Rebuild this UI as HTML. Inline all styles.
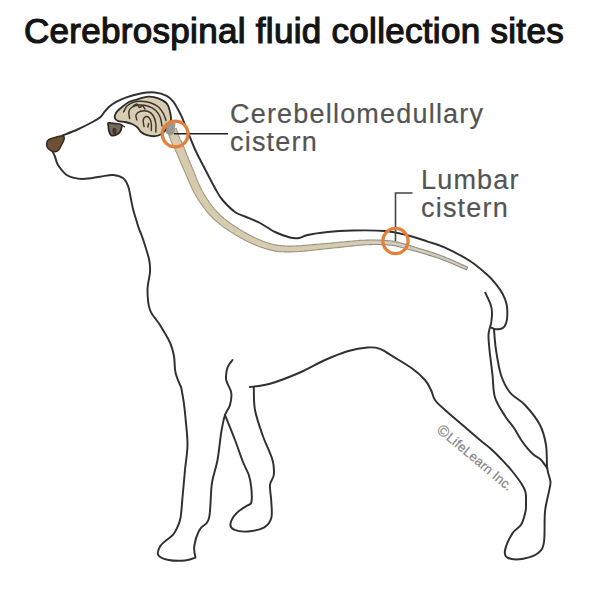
<!DOCTYPE html>
<html><head><meta charset="utf-8"><style>
html,body{margin:0;padding:0;background:#fff;width:600px;height:600px;overflow:hidden}
.t{position:absolute;font-family:"Liberation Sans",sans-serif;white-space:nowrap}
#title{left:24px;top:10.5px;font-size:35px;font-weight:normal;color:#141414;-webkit-text-stroke:1.2px #141414;letter-spacing:0.3px}
.lab{font-size:27px;color:#545454;-webkit-text-stroke:0.2px #545454;line-height:28px;letter-spacing:1.2px}
svg{position:absolute;left:0;top:0}
</style></head><body>
<svg width="600" height="600" viewBox="0 0 600 600">
<path d="M62.5 135.5 C65.0 134.5 72.5 131.8 77.5 129.5 C82.5 127.2 88.7 124.1 92.5 122.0 C96.3 119.9 98.4 118.8 100.5 117.0 C102.6 115.2 103.4 113.0 105.0 111.2 C106.6 109.4 108.3 107.4 110.0 106.0 C111.7 104.6 112.5 104.0 115.0 102.6 C117.5 101.2 120.5 99.3 125.0 97.8 C129.4 96.2 136.7 94.2 141.7 93.3 C146.7 92.4 150.8 92.1 155.0 92.5 C159.2 92.9 163.6 94.3 166.7 95.8 C169.8 97.3 171.4 99.3 173.3 101.7 C175.2 104.1 176.9 107.5 178.3 110.0 C179.7 112.5 180.6 114.2 181.7 116.7 C182.8 119.2 183.8 122.1 185.0 125.0 C186.2 127.9 187.0 129.8 188.7 134.0 C190.4 138.2 192.4 143.8 195.3 150.0 C198.2 156.2 202.6 164.5 206.0 171.0 C209.4 177.5 212.8 184.2 215.5 189.0 C218.2 193.8 219.2 196.2 222.5 200.0 C225.8 203.8 231.2 209.2 235.0 212.0 C238.8 214.8 240.8 214.7 245.0 216.5 C249.2 218.3 255.0 220.4 260.0 223.0 C265.0 225.6 270.0 229.6 275.0 232.0 C280.0 234.4 286.0 236.5 290.0 237.5 C294.0 238.5 296.1 238.4 299.0 238.0 C301.9 237.6 302.8 236.0 307.5 235.0 C312.2 234.0 320.0 232.8 327.5 232.0 C335.0 231.2 342.9 230.7 352.5 230.5 C362.1 230.3 375.8 230.2 385.0 231.0 C394.2 231.8 400.5 233.6 407.5 235.3 C414.5 237.0 420.8 239.2 427.0 241.3 C433.2 243.4 437.8 244.3 445.0 247.6 C452.2 250.9 462.9 256.4 470.0 261.0 C477.1 265.6 483.3 271.3 487.5 275.0 C491.7 278.7 492.5 279.8 495.0 283.0 C497.5 286.2 500.8 290.4 502.7 294.0 C504.6 297.6 505.9 301.1 506.7 304.7 C507.5 308.2 507.4 312.2 507.3 315.3 C507.2 318.4 506.8 321.2 506.0 323.3 C505.2 325.4 504.4 327.2 502.7 328.2 C501.0 329.2 498.0 329.4 496.0 329.3 C494.0 329.2 491.6 327.6 490.7 327.3" fill="none" stroke="#303030" stroke-width="1.95" stroke-linecap="round" stroke-linejoin="round" />
<path d="M485.3 292.7 C486.2 294.7 489.6 301.4 490.7 304.7 C491.8 308.0 491.9 309.8 492.0 312.7 C492.1 315.6 491.6 319.6 491.3 322.0 C491.0 324.4 490.5 325.1 490.0 327.3 C489.5 329.5 488.6 331.2 488.5 335.0 C488.4 338.8 488.8 343.3 489.5 350.0 C490.2 356.7 491.6 367.1 492.5 375.0 C493.4 382.9 492.9 390.7 495.0 397.5 C497.1 404.3 501.8 410.9 505.0 416.0 C508.2 421.1 511.3 424.0 514.0 428.0 C516.7 432.0 518.9 436.6 521.2 440.0 C523.5 443.4 525.6 446.2 527.7 448.7 C529.8 451.2 531.8 453.2 534.0 455.0 C536.2 456.8 538.5 457.3 540.7 459.5 C542.9 461.7 546.1 466.8 547.2 468.2" fill="none" stroke="#303030" stroke-width="1.95" stroke-linecap="round" stroke-linejoin="round" />
<path d="M52.0 150.5 C52.5 151.5 54.0 154.1 55.0 156.5 C56.0 158.9 55.9 161.8 58.0 165.0 C60.1 168.2 63.4 173.2 67.5 175.5 C71.6 177.8 77.1 178.8 82.5 179.0 C87.9 179.2 94.9 177.4 100.0 176.7 C105.1 176.0 109.4 174.7 113.3 175.0 C117.2 175.3 120.8 176.4 123.3 178.3 C125.8 180.2 127.1 183.4 128.3 186.7 C129.6 190.0 130.0 194.6 130.8 198.3 C131.6 202.0 132.2 205.8 133.0 209.0 C133.8 212.2 134.6 214.6 135.5 217.5 C136.4 220.4 137.0 222.9 138.3 226.7 C139.6 230.4 141.5 234.4 143.3 240.0 C145.1 245.6 148.1 254.7 149.2 260.0 C150.3 265.3 150.3 267.0 150.0 272.0 C149.7 277.0 147.5 283.7 147.5 290.0 C147.5 296.3 147.9 304.2 150.0 310.0 C152.1 315.8 156.7 319.6 160.0 325.0 C163.3 330.4 167.7 337.3 170.0 342.5 C172.3 347.7 173.1 351.0 174.0 356.0 C174.9 361.0 174.3 367.2 175.5 372.5 C176.7 377.8 181.2 387.5 181.2 387.5 C181.2 387.5 183.3 398.9 184.0 404.0 C184.7 409.1 184.9 411.2 185.5 418.0 C186.1 424.8 187.6 436.3 187.5 445.0 C187.4 453.7 185.8 461.2 185.0 470.0 C184.2 478.8 183.2 489.5 182.5 497.5 C181.8 505.5 181.4 512.9 180.5 518.0 C179.6 523.1 178.2 525.3 177.0 528.0 C175.8 530.7 175.1 532.3 173.3 534.3 C171.5 536.3 166.3 540.2 166.3 540.2 C166.3 540.2 161.3 544.0 160.0 546.5 C158.7 549.0 156.8 552.8 158.2 555.0 C159.6 557.2 164.2 559.1 168.7 560.0 C173.2 560.9 180.5 560.9 185.0 560.5 C189.5 560.1 195.5 557.7 195.5 557.7 C195.5 557.7 193.7 550.5 194.3 546.0 C194.9 541.5 197.1 534.5 199.0 530.8 C200.9 527.1 206.0 523.8 206.0 523.8 C206.0 523.8 208.6 521.3 209.5 515.7 C210.4 510.1 210.8 495.9 211.2 490.0 C211.8 484.1 211.5 485.0 212.5 480.0 C213.5 475.0 216.0 467.9 217.5 460.0 C219.0 452.1 220.0 440.0 221.2 432.5 C222.5 425.0 223.5 419.6 225.0 415.0 C226.5 410.4 229.0 408.8 230.0 405.0 C231.0 401.2 231.9 396.7 231.2 392.5 C230.6 388.3 226.9 384.2 226.2 380.0 C225.6 375.8 226.5 370.8 227.5 367.5 C228.5 364.2 231.7 361.2 232.5 360.0" fill="none" stroke="#303030" stroke-width="1.95" stroke-linecap="round" stroke-linejoin="round" />
<path d="M225.0 415.0 C226.7 419.2 232.0 432.2 235.0 440.0 C238.0 447.8 240.7 456.2 243.0 462.0 C245.3 467.8 247.4 470.8 248.8 475.0 C250.1 479.2 250.8 482.6 251.2 487.0 C251.7 491.4 252.0 498.7 251.5 501.7 C251.0 504.7 248.0 505.2 248.0 505.2 C248.0 505.2 239.2 510.2 236.3 513.3 C233.4 516.4 230.9 521.1 230.5 523.8 C230.1 526.5 231.1 528.4 234.0 529.7 C236.9 531.0 242.9 531.9 248.0 531.5 C253.1 531.1 260.4 529.5 264.3 527.3 C268.2 525.0 270.1 522.3 271.3 518.0 C272.5 513.7 271.5 507.2 271.3 501.7 C271.1 496.2 269.6 489.4 270.0 485.0 C270.4 480.6 273.3 479.2 273.8 475.0 C274.2 470.8 274.4 466.7 272.5 460.0 C270.6 453.3 265.4 443.3 262.5 435.0 C259.6 426.7 256.5 417.9 255.0 410.0 C253.5 402.1 254.0 391.2 253.8 387.5" fill="none" stroke="#303030" stroke-width="1.95" stroke-linecap="round" stroke-linejoin="round" />
<path d="M250.0 387.0 C253.3 386.5 261.7 386.2 270.0 383.8 C278.3 381.3 290.8 376.5 300.0 372.5 C309.2 368.5 317.1 363.5 325.0 360.0 C332.9 356.5 340.4 353.3 347.5 351.2 C354.6 349.2 362.1 347.9 367.5 347.5 C372.9 347.1 375.8 347.3 380.0 348.8 C384.2 350.2 387.1 352.9 392.5 356.2 C397.9 359.6 407.1 364.8 412.5 368.8 C417.9 372.7 421.9 376.5 425.0 380.0 C428.1 383.5 429.3 386.7 431.0 390.0 C432.7 393.3 432.7 396.7 435.0 400.0 C437.3 403.3 440.4 405.8 445.0 410.0 C449.6 414.2 456.7 420.0 462.5 425.0 C468.3 430.0 475.2 436.0 480.0 440.0 C484.8 444.0 487.4 445.8 491.0 449.0 C494.6 452.2 498.2 455.8 501.7 459.5 C505.2 463.2 508.8 467.0 512.0 471.0 C515.2 475.0 519.0 479.8 521.2 483.3 C523.5 486.8 524.7 488.7 525.5 492.0 C526.3 495.3 526.0 499.8 526.0 503.0 C526.0 506.2 526.3 507.9 525.5 511.5 C524.7 515.1 523.4 520.9 521.2 524.5 C519.0 528.1 515.2 528.9 512.5 533.2 C509.8 537.5 505.7 546.4 505.0 550.5 C504.3 554.6 505.1 556.6 508.2 558.0 C511.2 559.4 518.2 559.6 523.3 558.7 C528.3 557.8 535.0 555.5 538.5 552.7 C542.0 549.9 542.9 548.7 544.0 541.8 C545.1 534.9 544.1 520.2 545.0 511.5 C545.9 502.8 548.4 494.9 549.3 489.8 C550.2 484.8 550.8 484.8 550.4 481.2 C550.0 477.6 547.9 474.2 547.2 468.2 C546.5 462.2 547.2 452.2 546.0 445.0 C544.8 437.8 543.5 431.7 540.0 425.0 C536.5 418.3 530.0 410.4 525.0 405.0 C520.0 399.6 514.0 397.5 510.0 392.5 C506.0 387.5 503.3 382.1 501.0 375.0 C498.7 367.9 497.2 357.6 496.0 350.0 C494.8 342.4 494.3 332.8 494.0 329.3" fill="none" stroke="#303030" stroke-width="1.95" stroke-linecap="round" stroke-linejoin="round" />
<defs><linearGradient id="cf" gradientUnits="userSpaceOnUse" x1="170" y1="0" x2="470" y2="0"><stop offset="0" stop-color="#d7cbad"/><stop offset="0.55" stop-color="#d6cdb0"/><stop offset="1" stop-color="#d2cebf"/></linearGradient><linearGradient id="cs" gradientUnits="userSpaceOnUse" x1="170" y1="0" x2="470" y2="0"><stop offset="0" stop-color="#a09884"/><stop offset="0.55" stop-color="#979282"/><stop offset="1" stop-color="#8a8882"/></linearGradient></defs>
<path d="M167.7 131.5 L167.8 131.7 L167.9 132.0 L168.1 132.4 L168.2 132.8 L168.4 133.3 L168.5 133.8 L168.7 134.3 L168.9 134.9 L169.1 135.4 L169.3 136.0 L169.5 136.6 L169.7 137.2 L169.9 137.8 L170.1 138.4 L170.3 139.0 L170.5 139.6 L170.7 140.1 L170.9 140.7 L171.1 141.2 L171.3 141.7 L171.5 142.2 L171.7 142.6 L171.9 143.0 L172.1 143.4 L172.3 143.7 L172.4 144.1 L172.6 144.4 L172.8 144.6 L172.9 144.9 L173.0 145.1 L173.2 145.3 L173.3 145.6 L173.5 145.8 L173.6 146.1 L173.8 146.4 L174.0 146.8 L174.2 147.2 L174.4 147.6 L174.6 148.2 L174.9 148.8 L175.2 149.5 L175.5 150.2 L175.9 151.0 L176.2 151.8 L176.6 152.7 L177.0 153.6 L177.4 154.5 L177.8 155.5 L178.2 156.6 L178.7 157.6 L179.1 158.7 L179.6 159.8 L180.0 160.9 L180.5 162.1 L181.0 163.2 L181.5 164.4 L182.0 165.6 L182.6 166.8 L183.1 168.0 L183.6 169.2 L184.2 170.4 L184.7 171.6 L185.3 172.9 L185.8 174.2 L186.4 175.6 L187.0 177.0 L187.6 178.4 L188.2 179.8 L188.8 181.3 L189.4 182.7 L190.1 184.2 L190.8 185.7 L191.4 187.1 L192.1 188.6 L192.8 190.0 L193.6 191.5 L194.3 192.9 L195.1 194.3 L195.9 195.7 L196.6 197.0 L197.4 198.3 L198.2 199.5 L199.0 200.8 L199.8 202.0 L200.7 203.2 L201.5 204.4 L202.4 205.6 L203.2 206.8 L204.1 208.0 L205.0 209.2 L205.9 210.3 L206.8 211.4 L207.8 212.6 L208.8 213.7 L209.7 214.8 L210.8 215.9 L211.8 217.0 L212.8 218.0 L213.9 219.1 L215.0 220.1 L216.2 221.2 L217.4 222.2 L218.6 223.2 L219.8 224.2 L221.1 225.1 L222.3 226.1 L223.6 227.1 L224.9 228.0 L226.3 228.9 L227.6 229.8 L228.9 230.7 L230.3 231.6 L231.6 232.4 L233.0 233.3 L234.3 234.1 L235.6 234.9 L237.0 235.7 L238.3 236.4 L239.6 237.2 L240.9 237.9 L242.1 238.6 L243.4 239.3 L244.7 240.0 L246.0 240.7 L247.3 241.3 L248.6 242.0 L249.9 242.6 L251.2 243.2 L252.6 243.8 L253.9 244.3 L255.2 244.9 L256.5 245.4 L257.7 246.0 L259.0 246.5 L260.3 246.9 L261.6 247.4 L262.9 247.8 L264.1 248.2 L265.4 248.6 L266.6 249.0 L267.8 249.3 L269.0 249.6 L270.1 249.9 L271.2 250.2 L272.3 250.4 L273.3 250.7 L274.4 250.9 L275.4 251.1 L276.5 251.2 L277.6 251.4 L278.6 251.5 L279.7 251.6 L280.9 251.7 L282.0 251.8 L283.2 251.8 L284.5 251.9 L285.8 251.9 L287.1 251.9 L288.5 251.9 L290.0 251.9 L291.6 251.9 L293.2 251.8 L294.9 251.8 L296.7 251.7 L298.5 251.5 L300.4 251.4 L302.2 251.2 L304.2 251.1 L306.1 250.9 L308.1 250.7 L310.1 250.5 L312.0 250.3 L314.0 250.1 L316.0 249.8 L318.0 249.6 L320.0 249.4 L322.0 249.2 L323.9 249.0 L325.8 248.8 L327.7 248.6 L329.6 248.4 L331.6 248.2 L333.5 248.0 L335.5 247.8 L337.4 247.6 L339.4 247.4 L341.4 247.2 L343.4 246.9 L345.3 246.7 L347.3 246.5 L349.2 246.3 L351.1 246.1 L353.0 245.9 L354.9 245.7 L356.7 245.5 L358.5 245.3 L360.2 245.2 L361.9 245.0 L363.5 244.9 L365.1 244.8 L366.6 244.7 L368.1 244.7 L369.6 244.6 L371.0 244.6 L372.3 244.5 L373.7 244.5 L375.0 244.5 L376.2 244.5 L377.5 244.5 L378.7 244.5 L379.9 244.5 L381.1 244.6 L382.2 244.6 L383.3 244.6 L384.4 244.7 L385.5 244.8 L386.6 244.8 L387.7 244.9 L388.7 245.0 L389.8 245.1 L390.8 245.2 L391.7 245.3 L392.6 245.4 L393.4 245.5 L394.2 245.7 L394.9 245.8 L395.7 245.9 L396.4 246.1 L397.1 246.2 L397.8 246.4 L398.5 246.6 L399.2 246.8 L400.0 247.0 L400.8 247.2 L401.7 247.4 L402.6 247.7 L403.6 248.0 L404.6 248.3 L405.8 248.6 L407.0 248.9 L408.3 249.3 L409.6 249.6 L411.1 250.0 L412.6 250.4 L414.2 250.9 L415.8 251.3 L417.5 251.8 L419.2 252.3 L420.9 252.8 L422.6 253.3 L424.4 253.8 L426.1 254.3 L427.9 254.9 L429.6 255.4 L431.4 255.9 L433.1 256.5 L434.7 257.0 L436.3 257.5 L437.9 258.1 L439.4 258.6 L440.9 259.1 L442.4 259.7 L444.0 260.3 L445.6 260.9 L447.1 261.5 L448.7 262.2 L450.3 262.8 L451.9 263.5 L453.4 264.1 L454.9 264.8 L456.4 265.4 L457.8 266.1 L459.1 266.6 L460.4 267.2 L461.7 267.8 L462.8 268.3 L463.9 268.7 L464.8 269.1 L465.7 269.5 L466.4 269.8 L467.6 267.2 L466.8 266.8 L466.0 266.5 L465.1 266.0 L464.0 265.6 L462.9 265.0 L461.7 264.5 L460.4 263.9 L459.0 263.3 L457.6 262.6 L456.2 262.0 L454.7 261.3 L453.1 260.6 L451.6 259.9 L450.0 259.2 L448.4 258.5 L446.8 257.9 L445.2 257.2 L443.6 256.6 L442.1 256.0 L440.6 255.4 L439.0 254.8 L437.5 254.3 L435.8 253.7 L434.2 253.1 L432.5 252.6 L430.7 252.0 L429.0 251.4 L427.2 250.9 L425.4 250.3 L423.7 249.8 L421.9 249.2 L420.2 248.7 L418.5 248.2 L416.9 247.7 L415.2 247.2 L413.7 246.7 L412.1 246.3 L410.7 245.9 L409.3 245.5 L408.0 245.1 L406.8 244.8 L405.7 244.4 L404.7 244.1 L403.7 243.8 L402.8 243.6 L401.9 243.3 L401.1 243.1 L400.3 242.8 L399.5 242.6 L398.8 242.4 L398.0 242.2 L397.3 242.0 L396.5 241.9 L395.7 241.7 L394.9 241.6 L394.1 241.4 L393.2 241.3 L392.3 241.1 L391.3 241.0 L390.2 240.9 L389.1 240.8 L388.1 240.7 L387.0 240.6 L385.8 240.5 L384.7 240.4 L383.6 240.3 L382.4 240.2 L381.2 240.2 L380.0 240.1 L378.8 240.1 L377.6 240.0 L376.3 240.0 L375.0 240.0 L373.6 240.0 L372.3 240.0 L370.9 240.0 L369.4 240.0 L368.0 240.1 L366.4 240.1 L364.9 240.2 L363.3 240.2 L361.6 240.3 L359.9 240.4 L358.1 240.6 L356.3 240.7 L354.4 240.9 L352.6 241.0 L350.7 241.2 L348.7 241.4 L346.8 241.6 L344.8 241.8 L342.8 242.0 L340.9 242.1 L338.9 242.3 L336.9 242.5 L334.9 242.7 L333.0 242.9 L331.1 243.1 L329.2 243.2 L327.3 243.4 L325.4 243.5 L323.4 243.7 L321.5 243.9 L319.5 244.0 L317.5 244.2 L315.5 244.4 L313.5 244.6 L311.5 244.8 L309.5 245.0 L307.6 245.1 L305.6 245.3 L303.7 245.4 L301.8 245.6 L299.9 245.7 L298.1 245.8 L296.4 245.9 L294.7 246.0 L293.0 246.0 L291.5 246.1 L290.0 246.1 L288.6 246.1 L287.2 246.0 L285.9 246.0 L284.7 245.9 L283.5 245.9 L282.4 245.8 L281.4 245.7 L280.3 245.6 L279.3 245.5 L278.4 245.4 L277.4 245.2 L276.5 245.1 L275.5 244.9 L274.6 244.7 L273.6 244.5 L272.7 244.2 L271.6 244.0 L270.6 243.7 L269.5 243.4 L268.4 243.0 L267.2 242.7 L266.1 242.3 L264.9 241.9 L263.7 241.4 L262.5 241.0 L261.3 240.5 L260.1 240.0 L258.9 239.5 L257.7 239.0 L256.5 238.5 L255.2 237.9 L254.0 237.3 L252.8 236.7 L251.5 236.1 L250.3 235.5 L249.1 234.8 L247.8 234.2 L246.6 233.5 L245.4 232.8 L244.1 232.1 L242.9 231.4 L241.7 230.6 L240.4 229.9 L239.1 229.1 L237.9 228.3 L236.6 227.5 L235.3 226.7 L234.0 225.8 L232.7 225.0 L231.5 224.1 L230.2 223.2 L229.0 222.3 L227.8 221.4 L226.6 220.5 L225.4 219.6 L224.2 218.7 L223.1 217.7 L222.0 216.8 L221.0 215.8 L220.0 214.9 L219.0 213.9 L218.0 212.9 L217.1 211.9 L216.1 210.9 L215.2 209.9 L214.3 208.9 L213.5 207.8 L212.6 206.8 L211.8 205.7 L210.9 204.6 L210.1 203.5 L209.3 202.4 L208.6 201.3 L207.8 200.1 L207.0 199.0 L206.3 197.8 L205.5 196.6 L204.8 195.4 L204.1 194.2 L203.4 193.0 L202.7 191.8 L202.0 190.5 L201.3 189.3 L200.7 187.9 L200.0 186.6 L199.4 185.2 L198.7 183.8 L198.1 182.4 L197.5 181.0 L196.9 179.5 L196.3 178.1 L195.8 176.7 L195.2 175.2 L194.6 173.8 L194.1 172.4 L193.5 171.0 L193.0 169.7 L192.4 168.4 L191.9 167.1 L191.4 165.8 L190.9 164.6 L190.4 163.4 L189.9 162.3 L189.4 161.1 L188.9 159.9 L188.5 158.8 L188.0 157.6 L187.6 156.5 L187.1 155.4 L186.7 154.3 L186.3 153.3 L185.9 152.3 L185.5 151.3 L185.1 150.3 L184.8 149.3 L184.4 148.4 L184.1 147.6 L183.7 146.7 L183.4 146.0 L183.1 145.2 L182.8 144.5 L182.5 143.9 L182.2 143.3 L182.0 142.8 L181.8 142.3 L181.6 141.9 L181.4 141.5 L181.2 141.2 L181.0 140.9 L180.8 140.6 L180.7 140.3 L180.6 140.1 L180.4 139.9 L180.3 139.7 L180.2 139.6 L180.1 139.4 L180.0 139.2 L179.9 138.9 L179.8 138.6 L179.7 138.3 L179.5 137.9 L179.3 137.5 L179.2 137.0 L179.0 136.5 L178.8 136.0 L178.6 135.4 L178.4 134.8 L178.2 134.3 L178.0 133.7 L177.8 133.1 L177.6 132.6 L177.4 132.0 L177.2 131.5 L177.1 130.9 L176.9 130.4 L176.7 130.0 L176.6 129.6 L176.5 129.2 L176.4 128.8 L176.3 128.5Z" fill="url(#cf)" stroke="url(#cs)" stroke-width="1.1" stroke-linejoin="round"/>
<path d="M114.7 117.0 C114.5 115.4 115.8 113.2 117.0 111.5 C118.2 109.8 120.0 108.6 122.0 107.0 C124.0 105.4 126.8 103.2 129.0 102.0 C131.2 100.8 131.8 100.9 135.0 100.0 C138.2 99.1 144.4 97.0 148.3 96.7 C152.2 96.4 155.2 97.2 158.3 98.3 C161.4 99.4 164.8 101.1 166.7 103.3 C168.6 105.5 169.3 109.2 170.0 111.7 C170.7 114.2 170.9 116.8 171.0 118.3 C171.1 119.8 171.0 119.5 170.5 121.0 C170.0 122.5 169.5 124.8 168.0 127.0 C166.5 129.2 163.7 132.5 161.5 134.0 C159.3 135.5 157.4 136.0 155.0 136.2 C152.6 136.4 149.3 135.9 147.0 135.2 C144.7 134.5 142.7 133.4 141.0 132.0 C139.3 130.6 138.5 128.3 137.0 127.0 C135.5 125.7 134.0 124.8 132.0 124.0 C130.0 123.2 127.3 122.5 125.0 122.0 C122.7 121.5 119.7 121.8 118.0 121.0 C116.3 120.2 114.9 118.6 114.7 117.0Z" fill="#d8cdb2" stroke="#2b2b2b" stroke-width="1.8" stroke-linecap="round" stroke-linejoin="round" />
<path d="M166.5 126 L170 121.5 L175.5 123 L174.5 133 L170 136 L166 133Z" fill="#9b978c" stroke="none"/>
<path d="M123.6 112.0 C124.2 111.0 125.4 107.6 127.0 106.0 C128.6 104.4 130.9 103.0 133.3 102.2 C135.7 101.4 138.6 101.2 141.4 101.3 C144.2 101.4 147.6 101.8 150.4 102.8 C153.2 103.8 156.3 105.1 158.5 107.0 C160.7 108.9 162.3 111.8 163.6 114.0 C164.8 116.2 165.6 119.4 166.0 120.5" fill="none" stroke="#3a352c" stroke-width="1.45" stroke-linecap="round" stroke-linejoin="round" />
<path d="M129.7 118.5 C129.5 117.4 128.5 113.6 128.8 111.8 C129.1 110.0 129.8 108.6 131.5 107.5 C133.2 106.4 136.0 105.2 138.7 105.0 C141.4 104.8 144.8 105.1 147.7 106.0 C150.5 106.9 153.7 108.6 155.8 110.5 C157.9 112.4 159.3 114.9 160.3 117.5 C161.3 120.1 161.7 124.6 162.0 126.0" fill="none" stroke="#3a352c" stroke-width="1.45" stroke-linecap="round" stroke-linejoin="round" />
<path d="M136.9 120.0 C136.8 119.2 135.4 116.5 136.0 115.0 C136.6 113.5 138.6 111.9 140.5 111.3 C142.4 110.7 145.6 110.6 147.7 111.3 C149.8 112.0 151.8 113.5 153.1 115.5 C154.4 117.5 155.4 120.8 155.8 123.5 C156.2 126.2 155.8 130.6 155.8 132.0" fill="none" stroke="#3a352c" stroke-width="1.45" stroke-linecap="round" stroke-linejoin="round" />
<path d="M144.1 126.5 C143.9 125.4 142.9 121.7 143.2 120.0 C143.5 118.3 144.8 116.8 145.9 116.5 C147.0 116.2 148.6 117.0 149.5 118.2 C150.4 119.4 151.0 121.5 151.3 123.5 C151.6 125.5 151.3 129.3 151.3 130.5" fill="none" stroke="#3a352c" stroke-width="1.45" stroke-linecap="round" stroke-linejoin="round" />
<path d="M148.6 123.5 C148.5 124.1 148.0 126.4 147.9 127.0" fill="none" stroke="#3a352c" stroke-width="1.45" stroke-linecap="round" stroke-linejoin="round" />
<path d="M133.3 106.0 C133.9 105.7 135.9 103.8 136.9 104.0 C137.9 104.2 138.7 107.2 139.6 107.5 C140.5 107.8 141.4 105.5 142.3 105.8 C143.2 106.0 144.6 108.5 145.0 109.0" fill="none" stroke="#3a352c" stroke-width="1.45" stroke-linecap="round" stroke-linejoin="round" />
<path d="M46.7 143.0 C46.9 141.8 47.3 140.7 48.5 139.8 C49.7 138.9 51.7 138.5 54.0 137.8 C56.3 137.1 60.8 135.7 62.5 135.8 C64.2 135.9 64.3 137.0 64.3 138.3 C64.3 139.6 63.2 141.6 62.3 143.5 C61.4 145.4 60.1 148.1 59.0 149.5 C57.9 150.9 56.9 151.7 55.5 151.8 C54.1 151.9 51.9 151.1 50.5 150.3 C49.1 149.5 47.8 148.4 47.2 147.2 C46.6 146.0 46.5 144.2 46.7 143.0Z" fill="#6e5034" stroke="#3a2a1e" stroke-width="1.5" stroke-linecap="round" stroke-linejoin="round" />
<path d="M108.4 122.8 C109.5 122.4 112.8 123.2 115.0 123.5 C117.2 123.8 120.4 123.9 121.5 124.6 C122.6 125.3 121.8 126.3 121.6 127.5 C121.4 128.7 121.1 130.3 120.3 131.5 C119.5 132.7 118.0 134.2 116.5 134.8 C115.0 135.4 112.3 135.9 111.0 135.2 C109.7 134.5 109.2 132.0 108.8 130.5 C108.3 129.0 108.4 127.3 108.3 126.0 C108.2 124.7 107.3 123.2 108.4 122.8Z" fill="#75695d" stroke="#2a221c" stroke-width="1.6" stroke-linecap="round" stroke-linejoin="round" />
<ellipse cx="114.5" cy="131" rx="2" ry="3.2" fill="#3f3226"/>
<path d="M121.5 125 L124.5 126.8" fill="none" stroke="#2f2620" stroke-width="1.3" stroke-linecap="round" stroke-linejoin="round" />
<path d="M174 133.8 H228" stroke="#222" stroke-width="1.6" fill="none"/>
<path d="M395.5 241 V193 H412.5" stroke="#444" stroke-width="1.6" fill="none"/>
<circle cx="175.2" cy="134" r="12.9" fill="none" stroke="#e27f3b" stroke-width="3.3"/>
<circle cx="395.5" cy="241" r="12.6" fill="none" stroke="#e27f3b" stroke-width="3.3"/>
<text transform="translate(436,431) rotate(40)" font-family="Liberation Sans" font-size="13.2" letter-spacing="0.12" fill="#858585" stroke="#858585" stroke-width="0.2"><tspan font-size="15.5" dy="0.5">©</tspan><tspan dy="-0.5" dx="1">LifeLearn Inc.</tspan></text>
</svg>
<div class="t" id="title">Cerebrospinal fluid collection sites</div>
<div class="t lab" style="left:230px;top:99.5px">Cerebellomedullary<br>cistern</div>
<div class="t lab" style="left:421px;top:166px">Lumbar<br>cistern</div>
</body></html>
